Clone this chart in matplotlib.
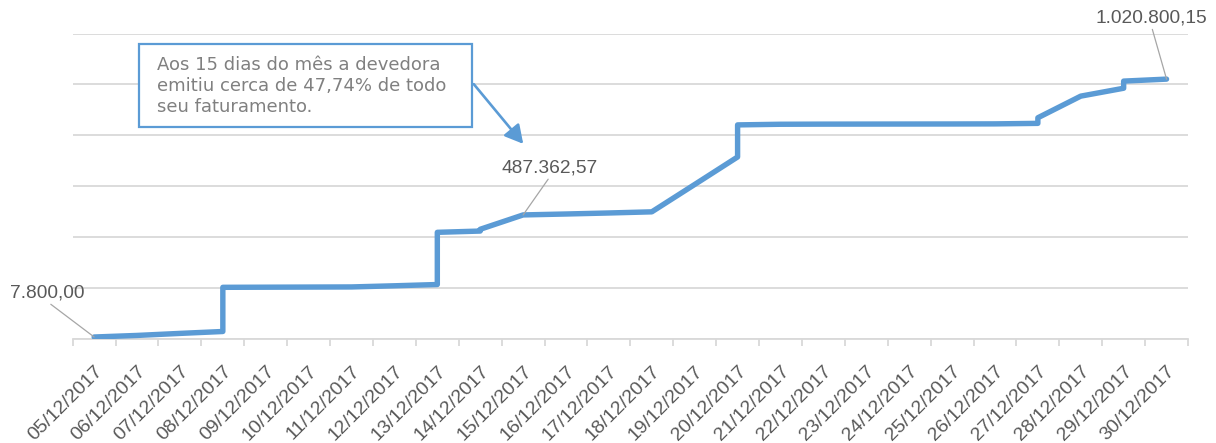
import matplotlib
matplotlib.use('Agg')
import matplotlib.pyplot as plt
from matplotlib.patches import Rectangle, FancyArrowPatch
import numpy as np

# ---------------- data ----------------
categories = ['05/12/2017', '06/12/2017', '07/12/2017', '08/12/2017', '09/12/2017',
              '10/12/2017', '11/12/2017', '12/12/2017', '13/12/2017', '14/12/2017',
              '15/12/2017', '16/12/2017', '17/12/2017', '18/12/2017', '19/12/2017',
              '20/12/2017', '21/12/2017', '22/12/2017', '23/12/2017', '24/12/2017',
              '25/12/2017', '26/12/2017', '27/12/2017', '28/12/2017', '29/12/2017',
              '30/12/2017']

# cumulative invoicing; several invoices on the same day share the same date
dates = ['05/12/2017', '06/12/2017', '07/12/2017', '08/12/2017', '08/12/2017',
         '09/12/2017', '10/12/2017', '11/12/2017', '12/12/2017', '13/12/2017',
         '13/12/2017', '14/12/2017', '14/12/2017', '15/12/2017', '16/12/2017',
         '17/12/2017', '18/12/2017', '19/12/2017', '20/12/2017', '20/12/2017',
         '21/12/2017', '22/12/2017', '23/12/2017', '24/12/2017', '25/12/2017',
         '26/12/2017', '27/12/2017', '27/12/2017', '28/12/2017', '29/12/2017',
         '29/12/2017', '30/12/2017']
values = [7800.00, 14000, 22000, 29500, 203000,
          203500, 204000, 204500, 209000, 214000,
          419000, 424000, 431000, 487362.57, 491000,
          495000, 499500, 607000, 715000, 841000,
          843500, 844000, 844200, 844400, 844600,
          845000, 847000, 869000, 954000, 985000,
          1013000, 1020800.15]

y_grid = [0, 200000, 400000, 600000, 800000, 1000000, 1200000]

labelled = {0: '7.800,00', 13: '487.362,57', 31: '1.020.800,15'}
label_offsets = {0: (-47, 44), 13: (27, 47), 31: (-15, 61)}

note = "Aos 15 dias do mês a devedora\nemitiu cerca de 47,74% de todo\nseu faturamento."

# ---------------- figure ----------------
W, H = 1216, 443
fig = plt.figure(figsize=(W / 100, H / 100), dpi=100)
fig.patch.set_facecolor('white')

ax_left, ax_right, ax_top, ax_bottom = 72.7, 1188, 33.5, 339
ax = fig.add_axes([ax_left / W, 1 - ax_bottom / H,
                   (ax_right - ax_left) / W, (ax_bottom - ax_top) / H])

grid_c = '#d9d9d9'
line_c = '#5b9bd5'
text_c = '#595959'

x = [categories.index(d) for d in dates]
ax.plot(x, values, color=line_c, lw=3.9, solid_joinstyle='round',
        solid_capstyle='round', zorder=3)

ax.set_xlim(-0.5, len(categories) - 0.5)
ax.set_ylim(y_grid[0], y_grid[-1])

ax.set_yticks(y_grid)
ax.set_yticklabels([])
ax.tick_params(axis='y', length=0)
ax.yaxis.grid(True, color=grid_c, lw=1.3)
ax.set_axisbelow(True)

for s in ['left', 'right', 'top']:
    ax.spines[s].set_visible(False)
ax.spines['bottom'].set_color(grid_c)
ax.spines['bottom'].set_linewidth(1.3)

ax.set_xticks(range(len(categories)))
ax.set_xticklabels(categories, rotation=45, ha='right', rotation_mode='anchor',
                   fontsize=14, color=text_c, family='Liberation Sans')
ax.tick_params(axis='x', which='major', length=0, pad=17)
ax.set_xticks(np.arange(-0.5, len(categories), 1), minor=True)
ax.tick_params(axis='x', which='minor', length=5, width=1.3, color=grid_c,
               direction='out')

# data labels with leader lines
for i, txt in labelled.items():
    ax.annotate(txt, xy=(x[i], values[i]), xytext=label_offsets[i],
                textcoords='offset pixels', ha='center', va='center',
                fontsize=13.8, color=text_c, family='Liberation Sans',
                arrowprops=dict(arrowstyle='-', color='#a6a6a6', lw=0.9,
                                relpos=(0.5, 0), shrinkA=0, shrinkB=0),
                zorder=5)

# callout box
box = Rectangle((139 / W, 1 - 127 / H), 333 / W, 83 / H, transform=fig.transFigure,
                facecolor='white', edgecolor=line_c, lw=1.6, zorder=6, clip_on=False)
ax.add_patch(box)
fig.text(157 / W, 1 - 56 / H, note, ha='left', va='top', fontsize=13,
         color='#808080', family='DejaVu Sans', linespacing=1.2, zorder=7)

arrow = FancyArrowPatch((472 / W, 1 - 82 / H), (525 / W, 1 - 146 / H),
                        transform=fig.transFigure,
                        arrowstyle='-|>,head_length=11,head_width=6',
                        mutation_scale=1, color=line_c, lw=1.9, zorder=6)
fig.add_artist(arrow)

fig.savefig('out.png', dpi=100, facecolor='white')
